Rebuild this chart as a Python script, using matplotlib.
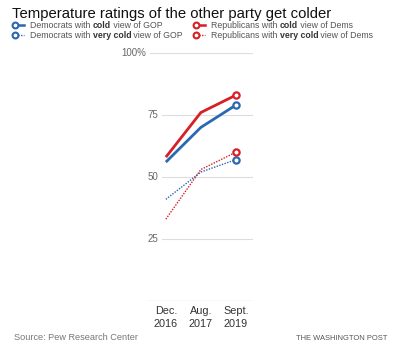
import matplotlib
matplotlib.use("Agg")
import matplotlib.pyplot as plt
from matplotlib.lines import Line2D

plt.rcParams["font.family"] = ["Liberation Sans", "DejaVu Sans"]

# Survey waves and share of partisans rating the other party coldly (%)
periods = ["Dec.\n2016", "Aug.\n2017", "Sept.\n2019"]
dem_cold = [56, 70, 79]
rep_cold = [58, 76, 83]
dem_very_cold = [41, 52, 57]
rep_very_cold = [33, 53, 60]
y_ticks = [25, 50, 75, 100]
y_tick_labels = ["25", "50", "75", "100%"]

BLUE = "#2c67b1"
RED = "#d61f26"

fig = plt.figure(figsize=(4.0, 3.48), dpi=100)
ax = fig.add_axes([148 / 400, 47 / 348, 105 / 400, 248 / 348])

x = list(range(len(periods)))
ax.set_xlim(-0.51, 2.49)
ax.set_ylim(0, 100)

# Gridlines start just right of their labels
W = 105.0
for val, lab in zip(y_ticks, y_tick_labels):
    start = 2 / W if lab.endswith("%") else 14 / W
    ax.axhline(val, xmin=start, xmax=1, color="#dddddd", lw=0.8, zorder=0)
    ax.text(-0.02 if lab.endswith("%") else 0.095, val, lab, transform=ax.get_yaxis_transform(),
            ha="right", va="center", fontsize=7.0, color="#666666")
ax.axhline(0, color="#777777", lw=0.8, zorder=1)

ax.plot(x, dem_very_cold, color=BLUE, lw=1.0, ls=(0, (1, 1)), zorder=2)
ax.plot(x, rep_very_cold, color=RED, lw=1.0, ls=(0, (1, 1)), zorder=2)
ax.plot(x, dem_cold, color=BLUE, lw=2.0, solid_capstyle="butt", zorder=3)
ax.plot(x, rep_cold, color=RED, lw=2.0, solid_capstyle="butt", zorder=3)

for series, col in [(dem_very_cold, BLUE), (rep_very_cold, RED), (dem_cold, BLUE), (rep_cold, RED)]:
    ax.plot([x[-1]], [series[-1]], "o", ms=4.5, mfc="white", mec=col, mew=1.6, zorder=4)

for xi, lab in zip(x, periods):
    ax.text(xi, -2.2, lab, ha="center", va="top", fontsize=7.8, color="#333333",
            linespacing=1.3)

for s in ax.spines.values():
    s.set_visible(False)
ax.set_xticks([])
ax.set_yticks([])
ax.patch.set_alpha(0)

# Title
fig.text(12 / 400, 1 - 14 / 348, "Temperature ratings of the other party get colder",
         fontsize=10.7, color="#111111", ha="left", va="center")

# Legend with partially bold labels
def legend_row(px, py, color, dotted, parts):
    yf = 1 - py / 348
    ls = (0, (1, 1)) if dotted else "-"
    lw = 1.0 if dotted else 1.8
    fig.add_artist(Line2D([(px + 3) / 400, (px + 12) / 400], [yf, yf], color=color, lw=lw,
                          ls=ls, transform=fig.transFigure))
    fig.add_artist(Line2D([(px + 3) / 400], [yf], marker="o", ms=4.2, mfc="white", mec=color,
                          mew=1.5, transform=fig.transFigure))
    base = yf - 3.0 / 348
    prev = fig.text((px + 18) / 400, base, parts[0][0], fontsize=6.3, color="#555555",
                    fontweight=parts[0][1], ha="left", va="baseline")
    for txt, wt in parts[1:]:
        prev = fig.add_artist(plt.Annotation(txt, xy=(1, base), xycoords=(prev, "figure fraction"),
                                             fontsize=6.3, color="#333333" if wt == "bold" else "#555555",
                                             fontweight=wt, ha="left", va="baseline"))

legend_row(12, 25, BLUE, False, [("Democrats with ", "normal"), ("cold", "bold"), (" view of GOP", "normal")])
legend_row(12, 35, BLUE, True, [("Democrats with ", "normal"), ("very cold", "bold"), (" view of GOP", "normal")])
legend_row(193, 25, RED, False, [("Republicans with ", "normal"), ("cold", "bold"), (" view of Dems", "normal")])
legend_row(193, 35, RED, True, [("Republicans with ", "normal"), ("very cold", "bold"), (" view of Dems", "normal")])

fig.text(14 / 400, 1 - 338 / 348, "Source: Pew Research Center", fontsize=6.6,
         color="#777777", ha="left", va="center")
fig.text(387 / 400, 1 - 338 / 348, "THE WASHINGTON POST", fontsize=5.4,
         color="#555555", ha="right", va="center")

fig.savefig("out.png", dpi=100, facecolor="white")
